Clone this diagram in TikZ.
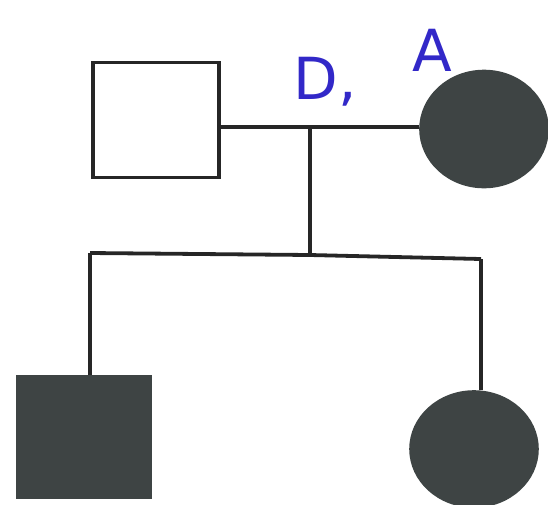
\documentclass[tikz,border=0pt]{standalone}
\usepackage{fontspec}
\setmainfont{DejaVu Sans}
\usepackage{tikz}
\usetikzlibrary{shapes.geometric}
\definecolor{affgray}{RGB}{62,68,68}
\definecolor{penblue}{RGB}{50,40,200}
\tikzstyle{male} = [rectangle,
  minimum width=126pt, minimum height=115pt,
  draw=black!85, line width=3.6pt, fill=white]
\tikzstyle{female} = [ellipse,
  minimum width=126pt, minimum height=115pt,
  draw=black!85, line width=3.6pt, fill=white]
\tikzstyle{affected} = [fill=affgray, draw=affgray]
\tikzstyle{line} = [line width=3.8pt, draw=black!85]
\tikzstyle{pen} = [text=penblue, font=\fontsize{58}{58}\selectfont]

\begin{document}
\begin{tikzpicture}[x=1pt, y=-1pt]
\useasboundingbox (0,0) rectangle (548,504);

%% ---- PARENTS ----
\node (father) [male] at (156, 120) {};
\node (mother) [female, affected] at (484, 129) {};
\coordinate (mate) at (310, 127);
\draw[line] (father.east |- mate) -- (mother.west |- mate);

%% ---- HANDWRITTEN NOTE ----
\node (noteD) [pen] at (325, 82) {D,};
\node (noteA) [pen] at (432, 50) {A};

%% ---- DESCENT + SIBSHIP ----
\coordinate (sib)  at (310, 255);
\coordinate (sibL) at (90,  253);
\coordinate (sibR) at (481, 259);
\draw[line] (mate) -- (sib);
\draw[line] (sibL) -- (sib) -- (sibR);

%% ---- CHILDREN ----
\node (son)      [male, affected, minimum width=132pt, minimum height=120pt] at (84, 437) {};
\node (daughter) [female, affected, minimum height=114pt] at (474, 449) {};

\draw[line] (sibL) -- (sibL |- son.north);
\draw[line] (sibR) -- (sibR |- daughter.north);

\end{tikzpicture}
\end{document}
